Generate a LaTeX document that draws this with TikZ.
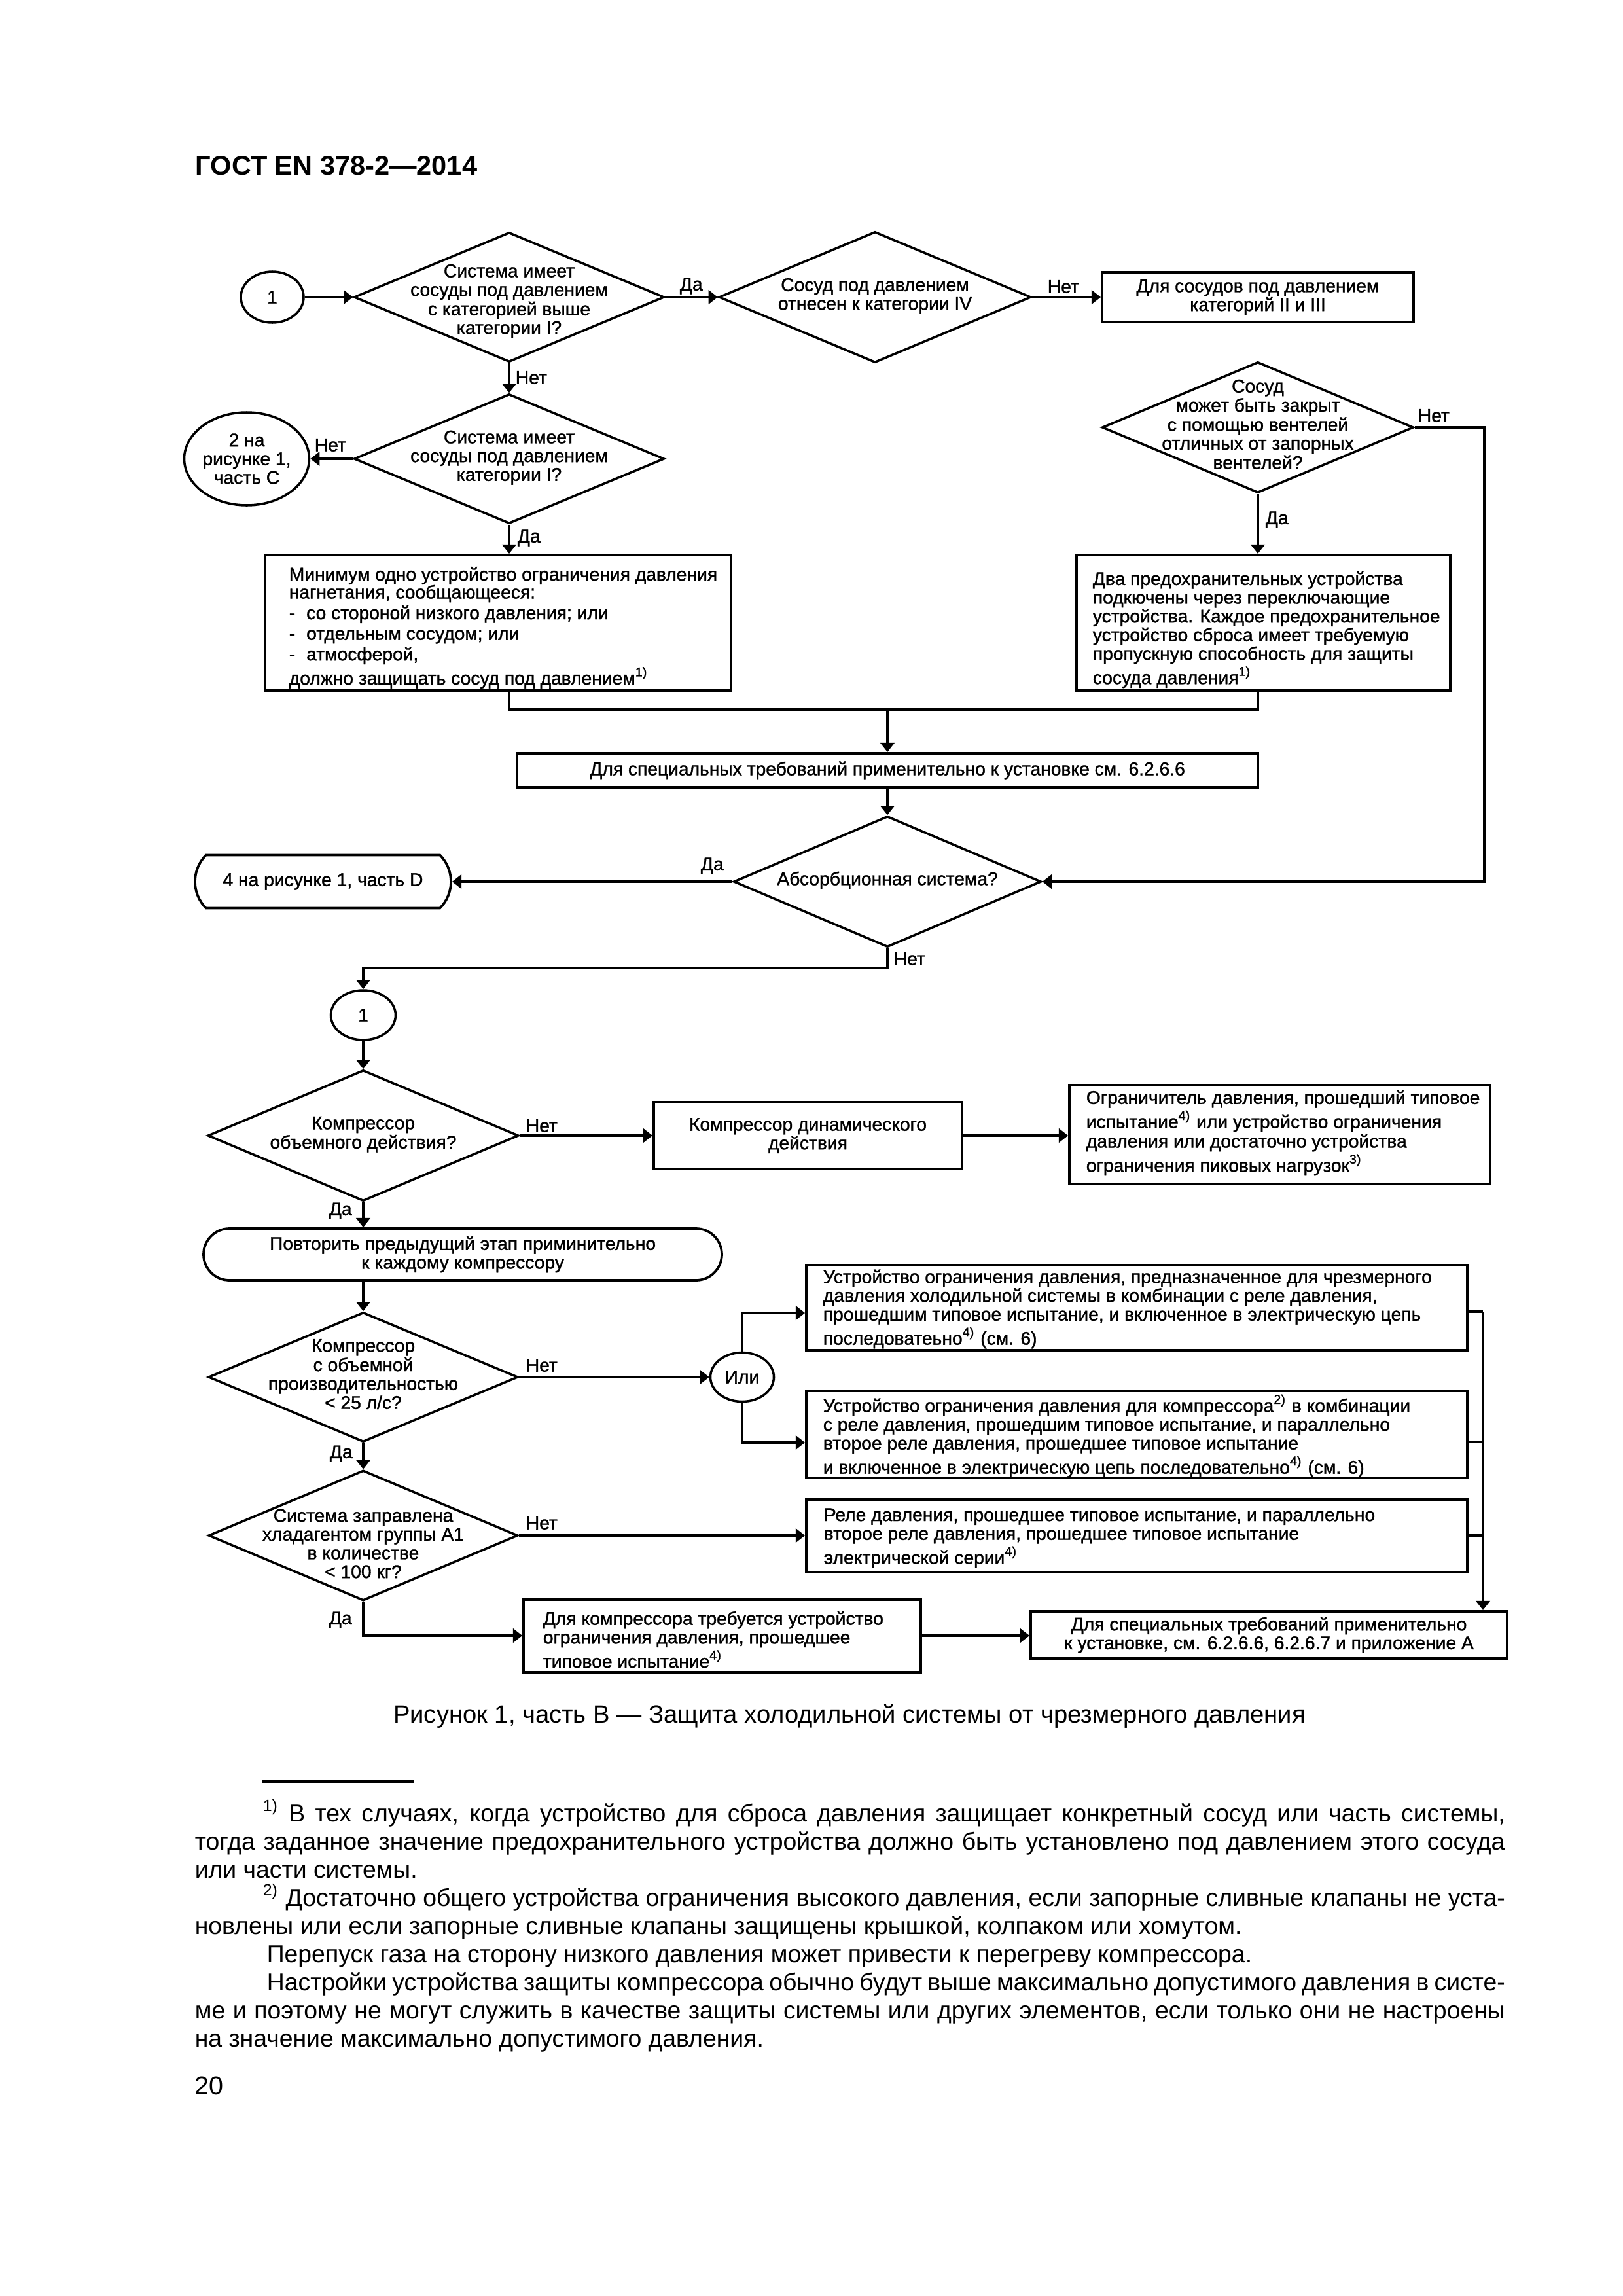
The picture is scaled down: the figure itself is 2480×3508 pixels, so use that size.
\documentclass[tikz,border=0pt]{standalone}
\usepackage{fontspec}
\setmainfont{Liberation Sans}
\newfontfamily\dfam[FakeBold=1.2]{Liberation Sans}
\usetikzlibrary{arrows.meta,shapes.geometric,shapes.misc}
\newlength\PXl
\setlength\PXl{0.08467mm}
\newcommand{\dfont}{\dfam\fontsize{6.8pt}{6.9pt}\selectfont}
\newcommand{\zt}[2][0pt]{\makebox[0pt]{\raisebox{\dimexpr -1.6pt-#1\relax}[0pt][0pt]{\begin{tabular}{@{}c@{}}#2\end{tabular}}}}
\newcommand{\sups}[1]{\textsuperscript{#1}}
\begin{document}
\begin{tikzpicture}[x=0.08467mm,y=-0.08467mm,
  dia/.style={diamond,draw,line width=0.85pt,inner sep=0pt,font=\dfont},
  rbox/.style={rectangle,draw,line width=0.95pt,inner sep=0pt,font=\dfont,align=center},
  oval/.style={ellipse,draw,line width=0.85pt,inner sep=0pt,font=\dfont,align=center},
  term/.style={rounded rectangle,draw,line width=0.9pt,inner sep=0pt,font=\dfont,align=center},
  txt/.style={inner sep=0pt,font=\dfont,align=left,anchor=west},
  lbl/.style={inner sep=0pt,font=\dfont,anchor=west},
  ln/.style={line width=0.85pt},
  arr/.style={line width=0.85pt,-{Triangle[length=1.2mm,width=1.8mm]}},
  foot/.style={inner sep=0pt,anchor=base west,font=\fontsize{9pt}{10pt}\selectfont}
]
\fill[white] (0,0) rectangle (2480,3508);
\useasboundingbox (0,0) rectangle (2480,3508);

\node[anchor=base west,inner sep=0pt,font=\fontsize{10pt}{12pt}\selectfont\bfseries] (hdr) at (298,267) {ГОСТ EN 378-2—2014};

% top part
\node[oval,minimum width=96\PXl,minimum height=78\PXl] (c1) at (416,454) {1};
\node[dia,minimum width=474\PXl,minimum height=198\PXl] (d1) at (778,454) {\zt[1.9pt]{Система имеет\\сосуды под давлением\\с категорией выше\\категории I?}};
\node[dia,minimum width=477\PXl,minimum height=200\PXl] (d2) at (1337,454) {\zt{Сосуд под давлением\\отнесен к категории IV}};
\node[rbox,minimum width=476\PXl,minimum height=76\PXl] (b1) at (1922,454) {Для сосудов под давлением\\категорий II и III};
\node[dia,minimum width=476\PXl,minimum height=200\PXl] (d3) at (1922,653) {\zt{Сосуд\\может быть закрыт\\с помощью вентелей\\отличных от запорных\\вентелей?}};
\node[dia,minimum width=474\PXl,minimum height=198\PXl] (d4) at (778,701) {\zt{Система имеет\\сосуды под давлением\\категории I?}};
\node[oval,minimum width=156\PXl,minimum height=142\PXl] (c3) at (377,701) {2 на\\рисунке 1,\\часть C};

\node[rbox,minimum width=712\PXl,minimum height=207\PXl] (bmin) at (761,951.5) {};
\node[txt,font=\dfam\fontsize{6.8pt}{7.6pt}\selectfont] (tmin) at (441,959) {Минимум одно устройство ограничения давления\\[-1pt]нагнетания, сообщающееся:\\-\hspace{0.6em}со стороной низкого давления; или\\-\hspace{0.6em}отдельным сосудом; или\\-\hspace{0.6em}атмосферой,\\должно защищать сосуд под давлением\sups{1)}};
\node[rbox,minimum width=571\PXl,minimum height=207\PXl] (bdva) at (1930.5,951.5) {};
\node[txt] (tdva) at (1669,962) {Два предохранительных устройства\\подкючены через переключающие\\устройства. Каждое предохранительное\\устройство сброса имеет требуемую\\пропускную способность для защиты\\сосуда давления\sups{1)}};

\node[rbox,minimum width=1132\PXl,minimum height=52\PXl] (bsp) at (1356,1177) {Для специальных требований применительно к установке см. 6.2.6.6};
\node[dia,minimum width=470\PXl,minimum height=200\PXl] (dabs) at (1356,1347) {\zt{Абсорбционная система?}};
\node[term,rounded rectangle arc length=90,minimum width=391\PXl,minimum height=81\PXl] (t4) at (493.5,1347) {4 на рисунке 1, часть D};

% bottom part
\node[oval,minimum width=99\PXl,minimum height=76\PXl] (c2) at (555,1551) {1};
\node[dia,minimum width=475\PXl,minimum height=200\PXl] (dk1) at (555,1735) {\zt{Компрессор\\объемного действия?}};
\node[rbox,minimum width=471\PXl,minimum height=102\PXl] (bdyn) at (1234.5,1735) {Компрессор динамического\\действия};
\node[rbox,minimum width=643\PXl,minimum height=151\PXl] (bogr) at (1955.5,1733) {};
\node[txt,font=\dfam\fontsize{6.8pt}{7.2pt}\selectfont] (togr) at (1659,1731) {Ограничитель давления, прошедший типовое\\испытание\sups{4)} или устройство ограничения\\давления или достаточно устройства\\ограничения пиковых нагрузок\sups{3)}};

\node[term,rounded rectangle arc length=180,minimum width=792\PXl,minimum height=79\PXl] (bpov) at (707,1916.5) {Повторить предыдущий этап приминительно\\к каждому компрессору};
\node[dia,minimum width=473\PXl,minimum height=198\PXl] (dk2) at (555,2104) {\zt{Компрессор\\с объемной\\производительностью\\< 25 л/с?}};
\node[oval,minimum width=97\PXl,minimum height=75\PXl] (ili) at (1134,2104) {Или};
\node[rbox,minimum width=1010\PXl,minimum height=130\PXl] (bu1) at (1737,1998) {};
\node[txt] (tu1) at (1257,2000) {Устройство ограничения давления, предназначенное для чрезмерного\\давления холодильной системы в комбинации с реле давления,\\прошедшим типовое испытание, и включенное в электрическую цепь\\последоватеьно\sups{4)} (см. 6)};
\node[rbox,minimum width=1010\PXl,minimum height=133\PXl] (bu2) at (1737,2191.5) {};
\node[txt] (tu2) at (1257,2194) {Устройство ограничения давления для компрессора\sups{2)} в комбинации\\с реле давления, прошедшим типовое испытание, и параллельно\\второе реле давления, прошедшее типовое испытание\\и включенное в электрическую цепь последовательно\sups{4)} (см. 6)};
\node[dia,minimum width=473\PXl,minimum height=199\PXl] (dk3) at (555,2346) {\zt[4.1pt]{Система заправлена\\хладагентом группы A1\\в количестве\\< 100 кг?}};
\node[rbox,minimum width=1010\PXl,minimum height=111\PXl] (bu3) at (1737,2346) {};
\node[txt] (tu3) at (1258,2350) {Реле давления, прошедшее типовое испытание, и параллельно\\второе реле давления, прошедшее типовое испытание\\электрической серии\sups{4)}};
\node[rbox,minimum width=607\PXl,minimum height=111\PXl] (bkomp) at (1103.5,2499) {};
\node[txt] (tkomp) at (829,2505) {Для компрессора требуется устройство\\ограничения давления, прошедшее\\типовое испытание\sups{4)}};
\node[rbox,minimum width=728\PXl,minimum height=72\PXl] (bfin) at (1939,2498) {Для специальных требований применительно\\к установке, см. 6.2.6.6, 6.2.6.7 и приложение A};

% labels
\node[lbl] (l1) at (1038,437) {Да};
\node[lbl] (l2) at (1600,438) {Нет};
\node[lbl] (l3) at (787,577) {Нет};
\node[lbl] (l4) at (480,680) {Нет};
\node[lbl] (l5) at (790,822) {Да};
\node[lbl] (l6) at (2166,635) {Нет};
\node[lbl] (l7) at (1933,794) {Да};
\node[lbl] (l8) at (1070,1323) {Да};
\node[lbl] (l9) at (1365,1465) {Нет};
\node[lbl] (l10) at (803,1720) {Нет};
\node[lbl] (l11) at (502,1850) {Да};
\node[lbl] (l12) at (803,2086) {Нет};
\node[lbl] (l13) at (503,2221) {Да};
\node[lbl] (l14) at (803,2327) {Нет};
\node[lbl] (l15) at (502,2475) {Да};

% connectors
\draw[arr] (c1.east) -- (d1.west);
\draw[arr] (d1.east) -- (d2.west);
\draw[arr] (d2.east) -- (b1.west);
\draw[arr] (d1.south) -- (d4.north);
\draw[arr] (d4.west) -- (c3.east);
\draw[arr] (d4.south) -- (d4.south |- bmin.north);
\draw[arr] (d3.south) -- (d3.south |- bdva.north);
\coordinate (mL) at (778,1084);
\coordinate (mR) at (1922,1084);
\draw[ln] (d4.south |- bmin.south) -- (mL) -- (mR) -- (d3.south |- bdva.south);
\draw[arr] (bsp.north |- mL) -- (bsp.north);
\draw[arr] (bsp.south) -- (dabs.north);
\draw[arr] (dabs.west) -- (t4.east);
\coordinate (rr) at (2268,653);
\draw[arr] (d3.east) -- (rr) |- (dabs.east);
\coordinate (k1) at (1356,1479);
\draw[arr] (dabs.south) -- (k1) -| (c2.north);
\draw[arr] (c2.south) -- (dk1.north);
\draw[arr] (dk1.east) -- (bdyn.west);
\draw[arr] (bdyn.east) -- (bdyn.east -| bogr.west);
\draw[arr] (dk1.south) -- (dk1.south |- bpov.north);
\draw[arr] (dk1.south |- bpov.south) -- (dk2.north);
\draw[arr] (dk2.east) -- (ili.west);
\draw[arr] (ili.north) |- (bu1.west |- 0,2006);
\draw[arr] (ili.south) |- (bu2.west |- 0,2204);
\draw[arr] (dk2.south) -- (dk3.north);
\draw[arr] (dk3.east) -- (bu3.west);
\coordinate (cT) at (2266,2004);
\draw[ln] (bu1.east |- cT) -- (cT);
\draw[ln] (bu2.east |- 0,2203) -- (cT |- 0,2203);
\draw[ln] (bu3.east) -- (bu3.east -| cT);
\draw[arr] (cT) -- (cT |- bfin.north);
\draw[arr] (dk3.south) |- (bkomp.west);
\draw[arr] (bkomp.east) -- (bkomp.east -| bfin.west);

% caption and footnotes
\node[anchor=base,inner sep=0pt,font=\fontsize{9.2pt}{11pt}\selectfont] (cap) at (1298,2632) {Рисунок 1, часть B — Защита холодильной системы от чрезмерного давления};
\draw[line width=0.4mm] (401,2722) -- (632,2722);
\node[foot] (f1) at (401,2783) {\makebox[1898\PXl][s]{\sups{1)} В тех случаях, когда устройство для сброса давления защищает конкретный сосуд или часть системы,}};
\node[foot] (f2) at (297,2826) {\makebox[2002\PXl][s]{тогда заданное значение предохранительного устройства должно быть установлено под давлением этого сосуда}};
\node[foot] (f3) at (297,2869) {или части системы.};
\node[foot] (f4) at (401,2912) {\makebox[1898\PXl][s]{\sups{2)} Достаточно общего устройства ограничения высокого давления, если запорные сливные клапаны не уста-}};
\node[foot] (f5) at (297,2955) {новлены или если запорные сливные клапаны защищены крышкой, колпаком или хомутом.};
\node[foot] (f6) at (407,2998) {Перепуск газа на сторону низкого давления может привести к перегреву компрессора.};
\node[foot] (f7) at (407,3041) {\makebox[1892\PXl][s]{Настройки устройства защиты компрессора обычно будут выше максимально допустимого давления в систе-}};
\node[foot] (f8) at (297,3084) {\makebox[2002\PXl][s]{ме и поэтому не могут служить в качестве защиты системы или других элементов, если только они не настроены}};
\node[foot] (f9) at (297,3127) {на значение максимально допустимого давления.};
\node[foot,font=\fontsize{9.5pt}{11pt}\selectfont] (pg) at (297,3200) {20};
\end{tikzpicture}
\end{document}
